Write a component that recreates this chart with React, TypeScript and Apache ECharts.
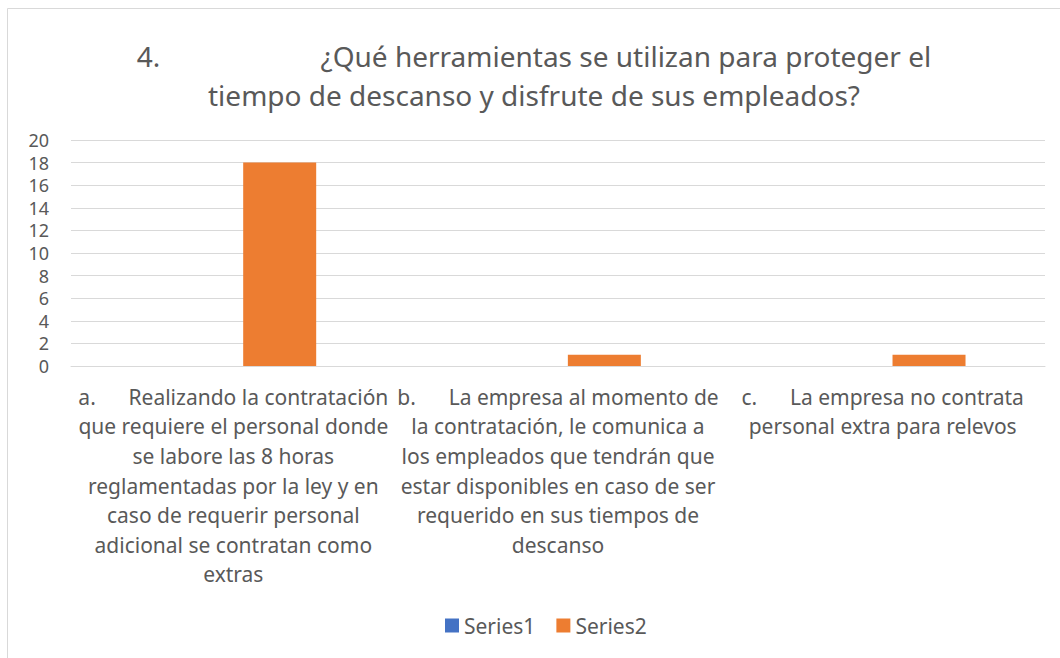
import React, { useEffect, useRef } from "react";
import * as echarts from "echarts";

const titleLine1Number = "4.";
const titleLine1Text = "¿Qué herramientas se utilizan para proteger el";
const titleLine2 = "tiempo de descanso y disfrute de sus empleados?";

const TAB = "\u00A0".repeat(6);
const categoryLines: string[][] = [
  [
    "a." + TAB + "Realizando la contratación",
    "que requiere el personal donde",
    "se labore las 8 horas",
    "reglamentadas por la ley y en",
    "caso de requerir personal",
    "adicional se contratan como",
    "extras",
  ],
  [
    "b." + TAB + "La empresa al momento de",
    "la contratación, le comunica a",
    "los empleados que tendrán que",
    "estar disponibles en caso de ser",
    "requerido en sus tiempos de",
    "descanso",
  ],
  [
    "c." + TAB + "La empresa no contrata",
    "personal extra para relevos",
  ],
];
const categories = categoryLines.map((l) => l.join("\n"));
const series1Values = [0, 0, 0];
const series2Values = [18, 1, 1];
const seriesNames = ["Series1", "Series2"];

const FONT = "'Noto Sans', sans-serif";
const TXT = "#595959";

export default function App() {
  const ref = useRef<HTMLDivElement>(null);
  useEffect(() => {
    const chart = echarts.init(ref.current!, null, { renderer: "svg" });
    const sp = "\u00A0".repeat(22);
    chart.setOption({
      animation: false,
      backgroundColor: "#ffffff",
      textStyle: { fontFamily: FONT },
      title: {
        text: titleLine1Number + sp + titleLine1Text + "\n" + titleLine2,
        left: 529,
        top: 31,
        textAlign: "center",
        textStyle: {
          fontFamily: FONT,
          fontWeight: "normal",
          fontSize: 28,
          lineHeight: 39,
          color: TXT,
        },
      },
      graphic: [
        {
          type: "rect",
          silent: true,
          shape: { x: 7.5, y: 8.5, width: 1070, height: 670 },
          style: { fill: "none", stroke: "#D9D9D9", lineWidth: 1 },
          z: -10,
        },
      ],
      legend: {
        data: seriesNames,
        bottom: 17,
        left: 440,
        itemWidth: 14,
        itemHeight: 14,
        itemGap: 21,
        icon: "rect",
        textStyle: { fontFamily: FONT, fontSize: 21, color: TXT },
      },
      grid: { left: 71, right: 15, top: 140, bottom: 292, containLabel: false },
      xAxis: {
        type: "category",
        data: categories,
        axisTick: { show: false },
        axisLine: { show: true, lineStyle: { color: "#D9D9D9", width: 1 } },
        axisLabel: {
          interval: 0,
          margin: 16,
          fontFamily: FONT,
          fontSize: 21,
          lineHeight: 29.6,
          color: TXT,
          align: "center",
        },
      },
      yAxis: {
        type: "value",
        min: 0,
        max: 20,
        interval: 2,
        axisLine: { show: false },
        axisTick: { show: false },
        axisLabel: {
          fontFamily: FONT,
          fontSize: 18,
          lineHeight: 18,
          color: TXT,
          margin: 22,
        },
        splitLine: { lineStyle: { color: "#D9D9D9", width: 1 } },
      },
      series: [
        {
          name: seriesNames[0],
          type: "bar",
          data: series1Values,
          barWidth: 73,
          barGap: "27%",
          itemStyle: { color: "#4472C4" },
        },
        {
          name: seriesNames[1],
          type: "bar",
          data: series2Values,
          barWidth: 73,
          barGap: "27%",
          itemStyle: { color: "#ED7D31" },
        },
      ],
    });
    return () => chart.dispose();
  }, []);
  return (
    <div
      ref={ref}
      style={{ position: "fixed", left: 0, top: 0, width: 1060, height: 658 }}
    />
  );
}
